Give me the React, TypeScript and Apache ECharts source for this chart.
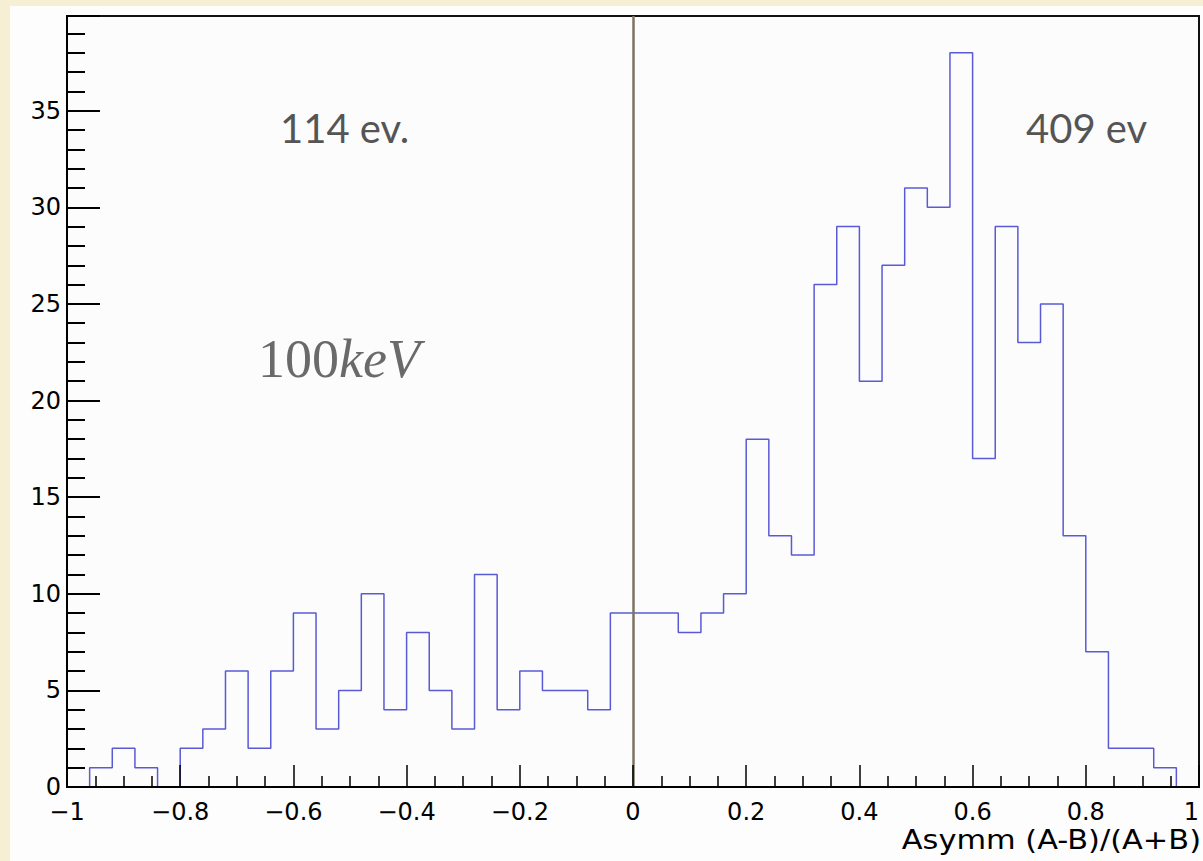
import React, { useEffect, useRef } from "react";
import * as echarts from "echarts";

const binStart = -1;
const binWidth = 0.04;
const counts = [
  0, 1, 2, 1, 0, 2, 3, 6, 2, 6, 9, 3, 5, 10, 4, 8, 5, 3, 11, 4, 6, 5, 5, 4, 9,
  9, 9, 8, 9, 10, 18, 13, 12, 26, 29, 21, 27, 31, 30, 38, 17, 29, 23, 25, 13, 7, 2, 2, 1, 0,
];
const xMin = -1;
const xMax = 1;
const xMajorStep = 0.2;
const yMax = 39.9;
const yMajorStep = 5;
const yMinorStep = 1;
const xTitle = "Asymm (A-B)/(A+B)";
const leftNote = "114 ev.";
const rightNote = "409 ev";
const energyValue = "100";
const energyUnit = "keV";

function fmtX(v: number): string {
  const r = Math.round(v * 100) / 100;
  if (r < 0) return "\u2212" + String(Math.abs(r));
  return String(r);
}

export default function App() {
  const ref = useRef<HTMLDivElement>(null);
  useEffect(() => {
    if (!ref.current) return;
    const chart = echarts.init(ref.current, undefined, { renderer: "svg" });
    const stepData: number[][] = counts.map((c, i) => [
      +(binStart + i * binWidth).toFixed(2),
      c,
    ]);
    stepData.push([+(binStart + counts.length * binWidth).toFixed(2), counts[counts.length - 1]]);

    const axisFont = "DejaVu Sans";
    chart.setOption({
      animation: false,
      backgroundColor: "transparent",
      grid: {
        left: 67,
        right: 4,
        top: 16,
        bottom: 74,
        show: true,
        backgroundColor: "#fcfcfc",
        borderColor: "#111",
        borderWidth: 2,
        outerBoundsMode: "none",
        containLabel: false,
      },
      xAxis: {
        type: "value",
        min: xMin,
        max: xMax,
        interval: xMajorStep,
        z: 5,
        axisLine: { show: true, onZero: false, lineStyle: { color: "#000", width: 2 } },
        axisTick: { show: true, inside: true, length: 22, lineStyle: { color: "#000", width: 1.5 } },
        minorTick: { show: true, splitNumber: 4, length: 11, lineStyle: { color: "#000", width: 1.5 } },
        splitLine: { show: false },
        minorSplitLine: { show: false },
        axisLabel: {
          show: true,
          margin: 13,
          color: "#000",
          fontFamily: axisFont,
          fontSize: 24,
          alignMaxLabel: "right",
          formatter: (v: number) => fmtX(v),
        },
      },
      yAxis: [
        {
          type: "value",
          min: 0,
          max: yMax,
          interval: yMajorStep,
          position: "left",
          z: 5,
          axisLine: { show: true, onZero: false, lineStyle: { color: "#000", width: 2 } },
          axisTick: { show: true, inside: true, length: 33, lineStyle: { color: "#000", width: 2 } },
          splitLine: { show: false },
          axisLabel: {
            show: true,
            margin: 6,
            color: "#000",
            fontFamily: axisFont,
            fontSize: 24,
            verticalAlign: "middle",
            formatter: (v: number) => (Math.abs(v % yMajorStep) < 1e-6 ? String(v) : ""),
          },
        },
        {
          type: "value",
          min: 0,
          max: yMax,
          interval: yMinorStep,
          position: "left",
          offset: 0,
          z: 5,
          axisLine: { show: false, onZero: false },
          axisTick: { show: true, inside: true, length: 18, lineStyle: { color: "#000", width: 2 } },
          splitLine: { show: false },
          axisLabel: { show: false },
        },
      ],
      series: [
        {
          type: "line",
          step: "end",
          yAxisIndex: 0,
          data: stepData,
          showSymbol: false,
          symbol: "none",
          z: 2,
          lineStyle: { color: "#5a5ad6", width: 1.5 },
          markLine: {
            silent: true,
            symbol: ["none", "none"],
            label: { show: false },
            lineStyle: { color: "#7b7364", width: 2.5, type: "solid" },
            data: [{ xAxis: 0 }],
          },
        },
      ],
      graphic: [
        {
          type: "text",
          x: 1201,
          y: 840,
          scaleX: 1.17,
          z: 10,
          style: {
            text: xTitle,
            fill: "#000",
            font: "26px 'DejaVu Sans'",
            textAlign: "right",
            textVerticalAlign: "middle",
          },
        },
        {
          type: "text",
          x: 280,
          y: 128,
          style: {
            text: leftNote,
            fill: "#555",
            font: "40px Lato",
            textVerticalAlign: "middle",
          },
        },
        {
          type: "text",
          x: 1026,
          y: 128,
          style: {
            text: rightNote,
            fill: "#555",
            font: "40px Lato",
            textVerticalAlign: "middle",
          },
        },
        {
          type: "text",
          x: 258,
          y: 359,
          style: {
            text: "{a|" + energyValue + "}{b|" + energyUnit + "}",
            textVerticalAlign: "middle",
            fill: "#6a6a6a",
            rich: {
              a: { fontFamily: "Liberation Serif", fontSize: 54, fill: "#6a6a6a" },
              b: { fontFamily: "Liberation Serif", fontSize: 54, fontStyle: "italic", fill: "#6a6a6a" },
            },
          },
        },
      ],
    });
    return () => chart.dispose();
  }, []);

  return (
    <div
      style={{
        position: "absolute",
        left: 0,
        top: 0,
        width: 1203,
        height: 861,
        background: "#f7efd3",
        overflow: "hidden",
      }}
    >
      <div
        style={{
          position: "absolute",
          left: 10,
          top: 6,
          width: 1193,
          height: 855,
          background: "#fdfdfd",
        }}
      />
      <div
        ref={ref}
        style={{ position: "absolute", left: 0, top: 0, width: 1203, height: 861 }}
      />
    </div>
  );
}
